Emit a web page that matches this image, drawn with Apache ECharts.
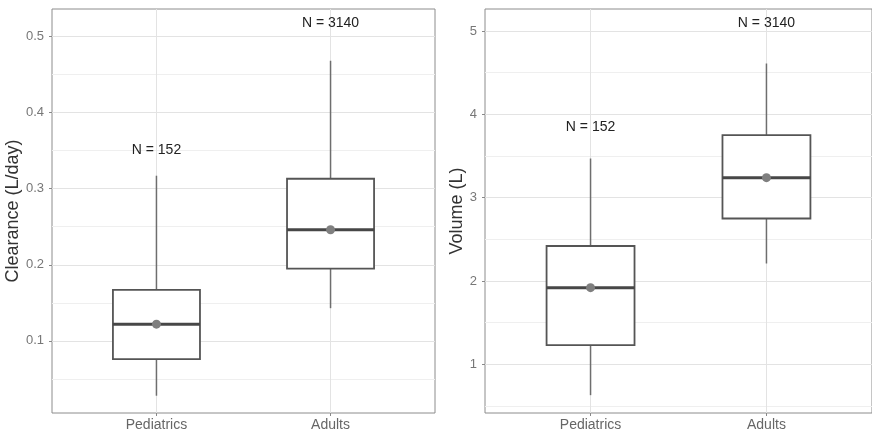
<!DOCTYPE html>
<html><head><meta charset="utf-8">
<script src="https://cdn.jsdelivr.net/npm/echarts@6/dist/echarts.min.js"></script>
<style>html,body{margin:0;padding:0;background:#fff}#c{width:872px;height:433px}</style>
</head><body><div id="c"></div><script>
const categories = ['Pediatrics', 'Adults'];
const catPos = [1, 2];
const nLabels = ['N = 152', 'N = 3140'];

const clearanceLow    = [0.028, 0.143];
const clearanceQ1     = [0.076, 0.195];
const clearanceMedian = [0.122, 0.246];
const clearanceQ3     = [0.167, 0.313];
const clearanceHigh   = [0.317, 0.468];
const clearanceMean   = [0.122, 0.246];
const clearanceLabelY = [0.351, 0.518];
const clearanceTicks  = [0.1, 0.2, 0.3, 0.4, 0.5];
const clearanceMinor  = [0.05, 0.15, 0.25, 0.35, 0.45];

const volumeLow    = [0.63, 2.21];
const volumeQ1     = [1.23, 2.75];
const volumeMedian = [1.92, 3.24];
const volumeQ3     = [2.42, 3.75];
const volumeHigh   = [3.47, 4.61];
const volumeMean   = [1.92, 3.24];
const volumeLabelY = [3.85, 5.10];
const volumeTicks  = [1, 2, 3, 4, 5];
const volumeMinor  = [0.5, 1.5, 2.5, 3.5, 4.5];

const panels = [
  {name: 'Clearance (L/day)', min: 0.0053, max: 0.536, ticks: clearanceTicks, minor: clearanceMinor,
   low: clearanceLow, q1: clearanceQ1, med: clearanceMedian, q3: clearanceQ3, high: clearanceHigh, mean: clearanceMean,
   labelY: clearanceLabelY, fmt: v => v.toFixed(1), nameGap: 25,
   grid: {left: 52, right: 437, top: 9, bottom: 20}},
  {name: 'Volume (L)', min: 0.416, max: 5.264, ticks: volumeTicks, minor: volumeMinor,
   low: volumeLow, q1: volumeQ1, med: volumeMedian, q3: volumeQ3, high: volumeHigh, mean: volumeMean,
   labelY: volumeLabelY, fmt: v => String(Math.round(v)), nameGap: 11,
   grid: {left: 485, right: -8, top: 9, bottom: 20}}
];

const grids = [], xAxes = [], yAxes = [], series = [];
panels.forEach((p, i) => {
  grids.push(Object.assign({show: true, borderColor: '#8c8c8c', borderWidth: 1, backgroundColor: '#fff'}, p.grid));
  xAxes.push({
    type: 'value', gridIndex: i, min: 0.4, max: 2.6,
    axisLine: {show: false},
    axisTick: {show: true, customValues: catPos, length: 3, lineStyle: {color: '#888'}},
    axisLabel: {show: true, customValues: catPos, margin: 5, fontSize: 14, color: '#666', fontFamily: 'Liberation Sans, Arial',
      formatter: v => categories[catPos.indexOf(Math.round(v))] || ''},
    splitLine: {show: true, lineStyle: {color: '#e3e3e3', width: 1}}
  });
  yAxes.push({
    type: 'value', gridIndex: i, min: p.min, max: p.max,
    name: p.name, nameLocation: 'middle', nameGap: p.nameGap,
    nameTextStyle: {fontSize: 18, color: '#333', fontFamily: 'Liberation Sans, Arial'},
    axisLine: {show: false},
    axisTick: {show: true, customValues: p.ticks, length: 3, lineStyle: {color: '#888'}},
    axisLabel: {show: true, customValues: p.ticks, margin: 8, fontSize: 13, color: '#777', fontFamily: 'Liberation Sans, Arial',
      formatter: p.fmt},
    splitLine: {show: true, lineStyle: {color: '#e3e3e3', width: 1}}
  });
  yAxes.push({
    type: 'value', gridIndex: i, min: p.min, max: p.max, position: 'left',
    axisLine: {show: false},
    axisTick: {show: false, customValues: p.minor},
    axisLabel: {show: false, customValues: p.minor},
    splitLine: {show: true, lineStyle: {color: '#efefef', width: 1}}
  });
  const data = categories.map((c, k) => [catPos[k], p.low[k], p.q1[k], p.med[k], p.q3[k], p.high[k], p.mean[k]]);
  series.push({
    type: 'custom', xAxisIndex: i, yAxisIndex: i * 2, data: data, silent: true, z: 3,
    encode: {x: 0, y: [1, 2, 3, 4, 5]},
    renderItem: (params, api) => {
      const x = api.value(0);
      const pl = api.coord([x, api.value(1)]);
      const p1 = api.coord([x, api.value(2)]);
      const pm = api.coord([x, api.value(3)]);
      const p3 = api.coord([x, api.value(4)]);
      const ph = api.coord([x, api.value(5)]);
      const pmean = api.coord([x, api.value(6)]);
      const hw = api.size([0.5, 0])[0] / 2;
      return {type: 'group', children: [
        {type: 'line', shape: {x1: ph[0], y1: ph[1], x2: p3[0], y2: p3[1]}, style: {stroke: '#6e6e6e', lineWidth: 1.5}},
        {type: 'line', shape: {x1: p1[0], y1: p1[1], x2: pl[0], y2: pl[1]}, style: {stroke: '#6e6e6e', lineWidth: 1.5}},
        {type: 'rect', shape: {x: p3[0] - hw, y: p3[1], width: hw * 2, height: p1[1] - p3[1]},
          style: {fill: '#fff', stroke: '#555', lineWidth: 1.8}},
        {type: 'line', shape: {x1: pm[0] - hw, y1: pm[1], x2: pm[0] + hw, y2: pm[1]}, style: {stroke: '#474747', lineWidth: 3}},
        {type: 'circle', shape: {cx: pmean[0], cy: pmean[1], r: 4.5}, style: {fill: '#7f7f7f'}}
      ]};
    }
  });
  const ldata = categories.map((c, k) => [catPos[k], p.labelY[k]]);
  series.push({
    type: 'custom', xAxisIndex: i, yAxisIndex: i * 2, data: ldata, silent: true, z: 4,
    encode: {x: 0, y: 1},
    renderItem: (params, api) => {
      const pt = api.coord([api.value(0), api.value(1)]);
      return {type: 'text', x: pt[0], y: pt[1],
        style: {text: nLabels[params.dataIndex], fill: '#222', fontSize: 14, fontFamily: 'Liberation Sans, Arial',
          align: 'center', verticalAlign: 'middle'}};
    }
  });
});

const chart = echarts.init(document.getElementById('c'), null, {renderer: 'canvas'});
chart.setOption({animation: false, backgroundColor: '#fff', grid: grids, xAxis: xAxes, yAxis: yAxes, series: series});
</script></body></html>
